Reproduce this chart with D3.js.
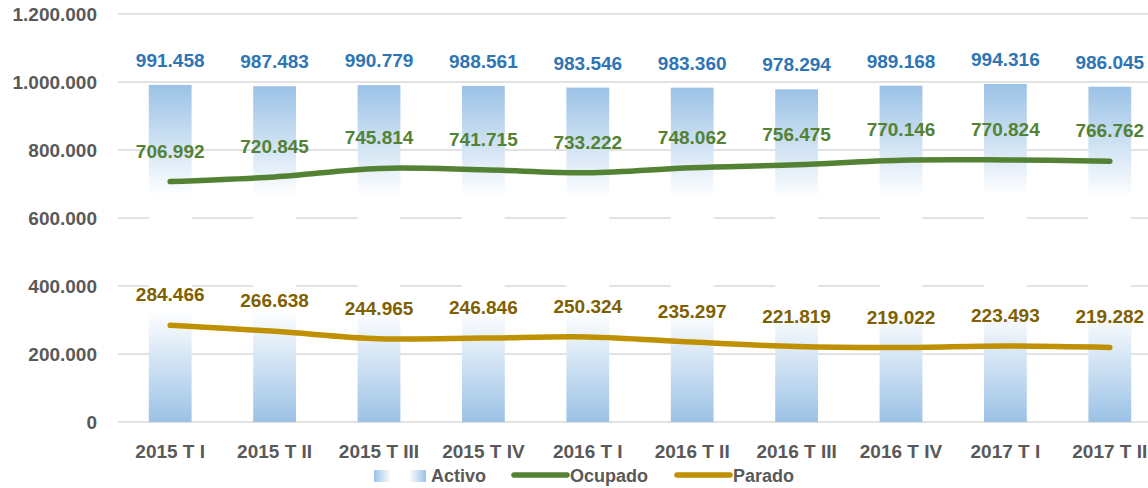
<!DOCTYPE html>
<html>
<head>
<meta charset="utf-8">
<script src="https://cdn.jsdelivr.net/npm/d3@7"></script>
<style>
  body { margin: 0; background: #fff; }
  svg { display: block; font-family: "Liberation Sans", Arial, sans-serif; font-weight: bold; }
</style>
</head>
<body>
<svg width="1148" height="488"></svg>
<script>
// Data
const categories = ["2015 T I","2015 T II","2015 T III","2015 T IV","2016 T I","2016 T II","2016 T III","2016 T IV","2017 T I","2017 T II"];
const activo  = [991458, 987483, 990779, 988561, 983546, 983360, 978294, 989168, 994316, 986045];
const ocupado = [706992, 720845, 745814, 741715, 733222, 748062, 756475, 770146, 770824, 766762];
const parado  = [284466, 266638, 244965, 246846, 250324, 235297, 221819, 219022, 223493, 219282];
const yTicks  = [0, 200000, 400000, 600000, 800000, 1000000, 1200000];

const svg = d3.select("svg");

const es = d3.formatLocale({decimal: ",", thousands: ".", grouping: [3], currency: ["", "€"]});
const fmt = es.format(",d");

const x = d3.scaleBand()
    .domain(categories)
    .range([118, 1162])
    .paddingInner(0.59)
    .paddingOuter(0.295);

const y = d3.scaleLinear()
    .domain([0, 1200000])
    .range([422, 14]);

const cx = d => x(d) + x.bandwidth() / 2;

// gradients
const defs = svg.append("defs");
const vGrad = defs.append("linearGradient")
    .attr("id", "barGrad")
    .attr("x1", 0).attr("y1", 0).attr("x2", 0).attr("y2", 1);
[[0, "#9bc2e6"], [0.33, "#ffffff"], [0.67, "#ffffff"], [1, "#9bc2e6"]].forEach(([o, c]) => {
    vGrad.append("stop").attr("offset", o).attr("stop-color", c);
});
const hGrad = defs.append("linearGradient")
    .attr("id", "legGrad")
    .attr("x1", 0).attr("y1", 0).attr("x2", 1).attr("y2", 0);
[[0, "#9bc2e6"], [0.33, "#ffffff"], [0.67, "#ffffff"], [1, "#9bc2e6"]].forEach(([o, c]) => {
    hGrad.append("stop").attr("offset", o).attr("stop-color", c);
});

// gridlines
svg.append("g")
    .selectAll("line")
    .data(yTicks)
    .join("line")
    .attr("x1", 118)
    .attr("x2", 1148)
    .attr("y1", d => y(d))
    .attr("y2", d => y(d))
    .attr("stroke", "#d9d9d9")
    .attr("stroke-width", 1.5);

// y labels
svg.append("g")
    .selectAll("text")
    .data(yTicks)
    .join("text")
    .attr("x", 97)
    .attr("y", d => y(d))
    .attr("dy", "0.35em")
    .attr("text-anchor", "end")
    .attr("fill", "#595959")
    .style("font-size", "19px")
    .text(d => fmt(d));

// bars
svg.append("g")
    .selectAll("rect")
    .data(activo)
    .join("rect")
    .attr("x", (d, i) => x(categories[i]))
    .attr("y", d => y(d))
    .attr("width", x.bandwidth())
    .attr("height", d => y(0) - y(d))
    .attr("fill", "url(#barGrad)");

// lines
const line = d3.line()
    .x((d, i) => cx(categories[i]))
    .y(d => y(d))
    .curve(d3.curveCatmullRom);

svg.append("path")
    .datum(ocupado)
    .attr("d", line)
    .attr("fill", "none")
    .attr("stroke", "#548235")
    .attr("stroke-width", 5.5)
    .attr("stroke-linecap", "round");

svg.append("path")
    .datum(parado)
    .attr("d", line)
    .attr("fill", "none")
    .attr("stroke", "#bf9000")
    .attr("stroke-width", 5.5)
    .attr("stroke-linecap", "round");

// value labels
function labels(values, color, offset) {
    svg.append("g")
        .selectAll("text")
        .data(values)
        .join("text")
        .attr("x", (d, i) => cx(categories[i]))
        .attr("y", d => y(d) - offset)
        .attr("text-anchor", "middle")
        .attr("fill", color)
        .style("font-size", "19px")
        .text(d => fmt(d));
}
labels(activo, "#2e75b6", 18);
labels(ocupado, "#548235", 24);
labels(parado, "#7f6000", 24);

// category labels
svg.append("g")
    .selectAll("text")
    .data(categories)
    .join("text")
    .attr("x", d => cx(d))
    .attr("y", 458)
    .attr("text-anchor", "middle")
    .attr("fill", "#595959")
    .style("font-size", "19px")
    .text(d => d);

// legend
const legend = svg.append("g");
legend.append("rect")
    .attr("x", 374).attr("y", 470)
    .attr("width", 52).attr("height", 12)
    .attr("fill", "url(#legGrad)");
legend.append("text")
    .attr("x", 431).attr("y", 482)
    .attr("fill", "#595959").style("font-size", "18px")
    .text("Activo");

legend.append("line")
    .attr("x1", 514).attr("x2", 567)
    .attr("y1", 475).attr("y2", 475)
    .attr("stroke", "#548235").attr("stroke-width", 5.5)
    .attr("stroke-linecap", "round");
legend.append("text")
    .attr("x", 570).attr("y", 482)
    .attr("fill", "#595959").style("font-size", "18px")
    .text("Ocupado");

legend.append("line")
    .attr("x1", 677).attr("x2", 730)
    .attr("y1", 475).attr("y2", 475)
    .attr("stroke", "#bf9000").attr("stroke-width", 5.5)
    .attr("stroke-linecap", "round");
legend.append("text")
    .attr("x", 733).attr("y", 482)
    .attr("fill", "#595959").style("font-size", "18px")
    .text("Parado");
</script>
</body>
</html>
